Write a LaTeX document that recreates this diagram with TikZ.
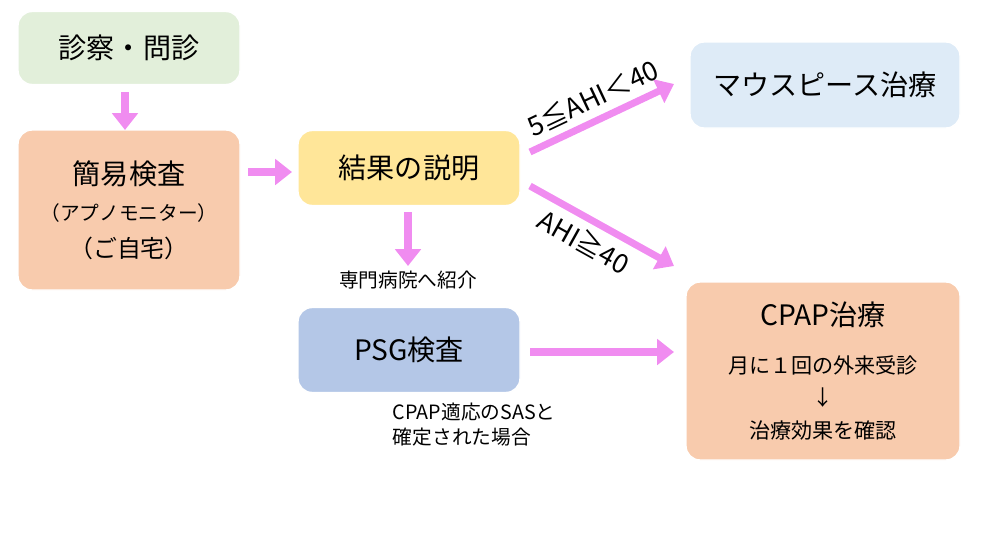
\documentclass[tikz,border=0pt]{standalone}
\usepackage{fontspec}
\setmainfont{Noto Sans CJK JP}
\usetikzlibrary{arrows.meta,positioning}
\definecolor{boxgreen}{HTML}{E2EFDA}
\definecolor{boxpeach}{HTML}{F8CBAD}
\definecolor{boxyellow}{HTML}{FFE699}
\definecolor{boxlblue}{HTML}{DEEBF7}
\definecolor{boxblue}{HTML}{B4C7E7}
\definecolor{arrowpink}{HTML}{F08CF0}
\tikzset{
      box/.style = {rounded corners=10pt, draw=white, line width=1pt, align=center, font=\fontsize{20}{26}\selectfont},
      flow/.style = {arrowpink, line width=5pt, -{Triangle[length=12pt,width=18pt]}},
      note/.style = {font=\fontsize{14}{18}\selectfont, align=left},
      cond/.style = {text=black, sloped, font=\fontsize{19}{22}\selectfont, inner sep=5pt},
    }
\begin{document}
\begin{tikzpicture}[x=0.025cm,y=-0.025cm]
            \useasboundingbox (0,0) rectangle (984,553);
            \node [box, fill=boxgreen, minimum width=222*0.025cm, minimum height=73*0.025cm] (shin) at (129,48) {診察・問診};
            \node [box, fill=boxpeach, minimum width=222*0.025cm, minimum height=160*0.025cm] (kani) at (129,210)
                  {簡易検査\\\fontsize{14}{18}\selectfont（アプノモニター）\\\fontsize{17}{22}\selectfont（ご自宅）};
            \node [box, fill=boxyellow, minimum width=222*0.025cm, minimum height=75*0.025cm] (kekka) at (409,168) {結果の説明};
            \node [box, fill=boxlblue, minimum width=270*0.025cm, minimum height=86*0.025cm] (mouth) at (825,85) {マウスピース治療};
            \node [box, fill=boxblue, minimum width=222*0.025cm, minimum height=85*0.025cm] (psg) at (409,350) {PSG検査};
            \node [box, fill=boxpeach, minimum width=274*0.025cm, minimum height=178*0.025cm] (cpap) at (823,371)
                  {CPAP治療\\[8pt]\fontsize{15}{20}\selectfont 月に１回の外来受診\\[-3pt]\fontsize{15}{20}\selectfont ↓\\[-3pt]\fontsize{15}{20}\selectfont 治療効果を確認};

            \coordinate (a1s) at (125,92);   \coordinate (a1e) at (125,130);
            \coordinate (a2s) at (248,172);  \coordinate (a2e) at (292,172);
            \coordinate (a3s) at (408,212);  \coordinate (a3e) at (408,266);
            \coordinate (a4s) at (530,152);  \coordinate (a4e) at (674,84);
            \coordinate (a5s) at (530,186);  \coordinate (a5e) at (674,266);
            \coordinate (a6s) at (530,352);  \coordinate (a6e) at (674,352);

            \draw [flow] (a1s) -- (a1e);
            \draw [flow] (a2s) -- (a2e);
            \draw [flow] (a3s) -- (a3e);
            \draw [flow] (a4s) -- node [cond, above] {5≦AHI＜40} (a4e);
            \draw [flow] (a5s) -- node [cond, below, pos=0.45] {AHI≧40} (a5e);
            \draw [flow] (a6s) -- (a6e);

            \node [note] (shokai) at (408,280) {専門病院へ紹介};
            \node [note, anchor=north west] (kakutei) at (388,398) {CPAP適応のSASと\\確定された場合};
      \end{tikzpicture}
\end{document}
